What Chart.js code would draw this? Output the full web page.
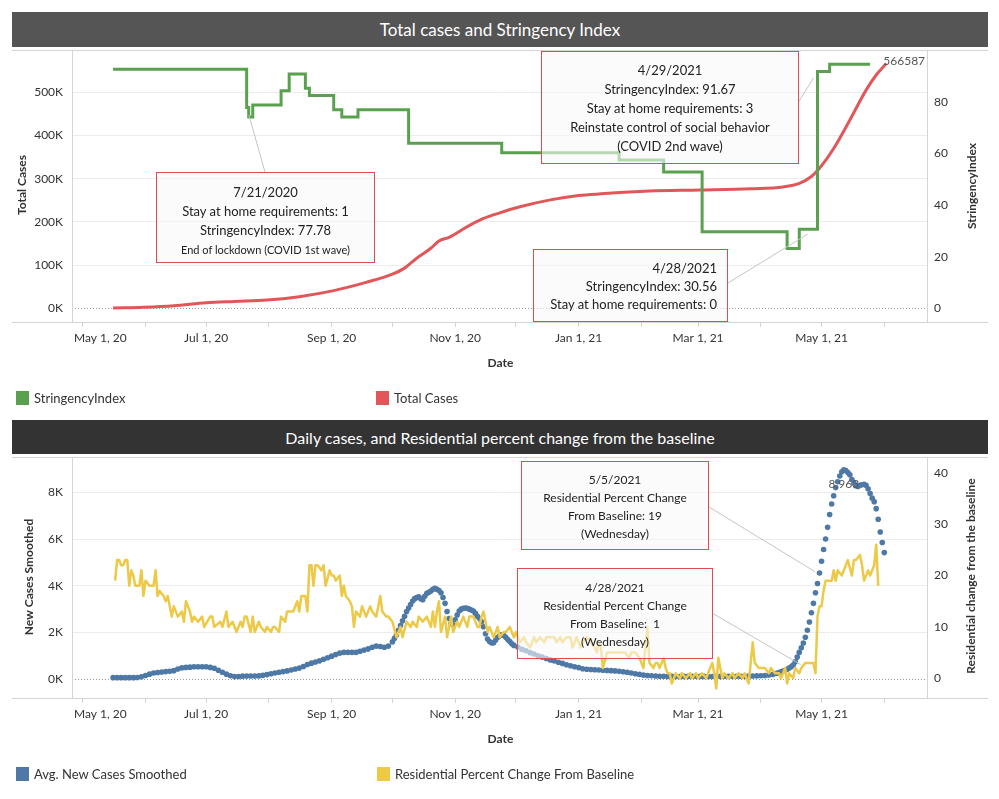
<!DOCTYPE html>
<html>
<head>
<meta charset="utf-8">
<script src="https://cdn.jsdelivr.net/npm/chart.js@4.4.0/dist/chart.umd.min.js"></script>
<style>
  body { margin: 0; background: #fff; font-family: Lato, "Open Sans", sans-serif; }
  #page { position: relative; width: 999px; height: 799px; overflow: hidden; }
  canvas { position: absolute; left: 0; }
  .bar { position: absolute; left: 12px; width: 976px; color: #fff; text-align: center; }
  .legend { position: absolute; height: 16px; font-size: 13px; color: #333; display: flex; align-items: center; }
  .legend i { display: inline-block; width: 13px; height: 14px; margin-right: 5px; }
  .note { position: absolute; box-sizing: border-box; border: 1px solid #e04b4f; background: rgba(248,248,248,0.6);
          color: #222; text-align: center; white-space: nowrap; }
  .top { font-size: 13px; line-height: 19px; }
  .bot { font-size: 12px; line-height: 18px; }
  .small { font-size: 11px; line-height: 16px; }
</style>
</head>
<body>
<div id="page">
  <canvas id="casesChart" width="999" height="410" style="top:0"></canvas>
  <canvas id="dailyChart" width="999" height="379" style="top:420px"></canvas>

  <div class="bar" style="top:12px;height:35px;line-height:36px;font-size:17px;background:#555">Total cases and Stringency Index</div>
  <div class="bar" style="top:420px;height:34px;line-height:36px;font-size:16px;background:#333">Daily cases, and Residential percent change from the baseline</div>

  <div class="legend" style="left:16px;top:390px"><i style="background:#59a14f"></i>StringencyIndex</div>
  <div class="legend" style="left:376px;top:390px"><i style="background:#e15759"></i>Total Cases</div>
  <div class="legend" style="left:16px;top:766px"><i style="background:#4e79a7"></i>Avg. New Cases Smoothed</div>
  <div class="legend" style="left:377px;top:766px"><i style="background:#edc948"></i>Residential Percent Change From Baseline</div>

  <div class="note top" style="left:156px;top:172px;width:219px;height:91px;padding-top:10px">
    7/21/2020<br>Stay at home requirements: 1<br>StringencyIndex: 77.78<br><span class="small">End of lockdown (COVID 1st wave)</span>
  </div>
  <div class="note top" style="left:541px;top:51px;width:258px;height:113px;padding-top:9px">
    4/29/2021<br>StringencyIndex: 91.67<br>Stay at home requirements: 3<br>Reinstate control of social behavior<br>(COVID 2nd wave)
  </div>
  <div class="note top" style="left:533px;top:249px;width:195px;height:73px;padding-top:9px;padding-right:10px;text-align:right;line-height:18px">
    4/28/2021<br>StringencyIndex: 30.56<br>Stay at home requirements: 0
  </div>
  <div class="note bot" style="left:521px;top:461px;width:188px;height:89px;padding-top:9px">
    5/5/2021<br>Residential Percent Change<br>From Baseline: 19<br>(Wednesday)
  </div>
  <div class="note bot" style="left:517px;top:568px;width:196px;height:91px;padding-top:10px">
    4/28/2021<br>Residential Percent Change<br>From Baseline:&nbsp; 1<br>(Wednesday)
  </div>
</div>

<script>
// x values are days counted from May 1, 2020
const monthDays = [0, 31, 61, 92, 123, 153, 184, 214, 245, 276, 304, 335, 365, 396];
const monthLabels = ['May 1, 20', '', 'Jul 1, 20', '', 'Sep 1, 20', '', 'Nov 1, 20', '', 'Jan 1, 21', '', 'Mar 1, 21', '', 'May 1, 21', ''];

// Stringency index: day each level starts
const stringencyIndex = [[15, 92.59], [81, 77.78], [82, 74.07], [84, 78.7], [98, 84.26], [102, 90.74], [110, 85.19],
  [112, 82.41], [124, 76.85], [128, 74.07], [136, 76.85], [161, 63.89], [207, 60.19], [265, 57.41], [287, 52.78],
  [306, 29.63], [348, 23.15], [354, 30.56], [363, 91.67], [369, 94.44], [389, 94.44]];

const totalCases = [[15, 800], [30, 2500], [45, 6000], [61, 13000], [75, 16000], [91, 19000], [107, 27000],
  [124, 41000], [140, 60000], [153, 79000], [159, 93000], [165, 116000], [172, 139000], [176, 156000],
  [181, 164000], [190, 189000], [198, 208000], [206, 221000], [216, 235000], [231, 251000], [245, 261000],
  [256, 265000], [280, 271500], [305, 274000], [330, 277000], [346, 281000], [354, 289000], [360, 305000],
  [364, 324000], [371, 370000], [379, 436000], [387, 505000], [392, 540000], [397, 566587]];

const totalCasesTicks = [0, 100000, 200000, 300000, 400000, 500000];
const stringencyTicks = [0, 20, 40, 60, 80];

const newCasesSmoothed = [
  [15, 70], [17, 70], [19, 70], [21, 70], [23, 70], [25, 70], [27, 75], [29, 110], [31, 160], [33, 220], [35, 270],
  [37, 290], [39, 310], [41, 330], [43, 340], [45, 370], [47, 440], [49, 490], [51, 510], [53, 520], [55, 540],
  [57, 540], [59, 540], [61, 540], [63, 510], [65, 470], [67, 390], [69, 300], [71, 220], [73, 150], [75, 115],
  [77, 120], [79, 135], [81, 140], [83, 140], [85, 140], [87, 145], [89, 170], [91, 200], [93, 240], [95, 270],
  [97, 300], [99, 330], [101, 360], [103, 400], [105, 440], [107, 480], [109, 550], [111, 630], [113, 690],
  [115, 740], [117, 790], [119, 860], [121, 920], [123, 990], [125, 1060], [127, 1120], [129, 1150], [131, 1150],
  [133, 1150], [135, 1150], [137, 1200], [139, 1250], [141, 1300], [143, 1370], [145, 1420], [147, 1400],
  [149, 1370], [151, 1420], [153, 1600],
  [154, 1750], [155, 1900], [156, 2100], [157, 2300], [158, 2500], [159, 2700], [160, 2900], [161, 3050],
  [162, 3200], [163, 3350], [164, 3450], [165, 3500], [166, 3530], [167, 3450], [168, 3400], [169, 3550],
  [170, 3680], [171, 3720], [172, 3780], [173, 3850], [174, 3890], [175, 3850], [176, 3800], [177, 3700],
  [178, 3500], [179, 3250], [180, 2900], [181, 2600], [182, 2400], [183, 2320], [184, 2550], [185, 2750],
  [186, 2920], [187, 3000], [188, 3040], [189, 3050], [190, 3040], [191, 3000], [192, 2960], [193, 2920],
  [194, 2820], [195, 2700], [196, 2600], [197, 2460], [198, 2250], [199, 1950], [200, 1720], [201, 1620],
  [202, 1560], [203, 1560], [204, 1680], [205, 1800], [206, 1860], [207, 1900], [208, 1880], [209, 1800],
  [210, 1700], [211, 1620], [212, 1520], [213, 1450],
  [215, 1380], [217, 1280], [219, 1220], [221, 1140], [223, 1080], [225, 1010], [227, 950], [229, 890],
  [231, 830], [233, 780], [235, 730], [237, 680], [239, 620], [241, 580], [243, 540], [245, 500], [247, 450],
  [249, 430], [251, 420], [253, 410], [255, 400], [257, 390], [259, 380], [261, 370], [263, 360], [265, 340],
  [267, 320], [269, 300], [271, 270], [273, 240], [275, 210], [277, 180], [279, 160], [281, 150], [283, 140],
  [285, 130], [287, 130], [289, 125], [291, 125], [293, 120], [295, 120], [297, 125], [299, 125], [301, 130],
  [303, 130], [305, 125], [307, 125], [309, 120], [311, 120], [313, 125], [315, 125], [317, 130], [319, 130],
  [321, 130], [323, 130], [325, 130], [327, 135], [329, 135], [331, 140], [333, 145], [335, 155], [337, 165],
  [339, 185], [341, 210], [343, 260], [344, 290], [345, 320], [346, 350],
  [347, 390], [348, 430], [349, 480], [350, 540], [351, 610], [352, 750], [353, 950], [354, 1150], [355, 1350],
  [356, 1550], [357, 1800], [358, 2100], [359, 2450], [360, 2850], [361, 3250], [362, 3700], [363, 4100],
  [364, 4550], [365, 5050], [366, 5550], [367, 6000], [368, 6500], [369, 7050], [370, 7500], [371, 7850],
  [372, 8200], [373, 8450], [374, 8700], [375, 8880], [376, 8963], [377, 8930], [378, 8850], [379, 8750],
  [380, 8550], [381, 8400], [382, 8280], [383, 8250], [384, 8300], [385, 8320], [386, 8340], [387, 8300],
  [388, 8150], [389, 7950], [390, 7750], [391, 7600], [392, 7300], [393, 6850], [394, 6300], [395, 5850],
  [396, 5420]];

const residentialChange = [
  [16, 19], [17, 23], [18, 23], [19, 22], [20, 22], [21, 23], [22, 23], [23, 18], [24, 21], [25, 20], [26, 18],
  [28, 18], [29, 21], [30, 16], [31, 19], [33, 18], [35, 18], [36, 21], [37, 16], [38, 17], [40, 16], [41, 15],
  [42, 16], [44, 12], [45, 14], [47, 12], [49, 13], [50, 11], [51, 15], [53, 13], [54, 11], [55, 12], [57, 11],
  [59, 12], [60, 10], [63, 12], [64, 12], [65, 10], [68, 11], [69, 10], [71, 13], [72, 10], [74, 11], [76, 9],
  [78, 11], [79, 10], [80, 12], [81, 12], [83, 9], [84, 12], [85, 9], [87, 11], [88, 10], [90, 9], [91, 10],
  [93, 9], [94, 10], [95, 10], [97, 9], [98, 12], [100, 11], [101, 13], [102, 13], [104, 13], [106, 15],
  [107, 13], [108, 16], [110, 16], [111, 13], [112, 22], [113, 22], [114, 18], [115, 22], [116, 22], [118, 21],
  [119, 22], [120, 18], [122, 21], [123, 20], [124, 20], [125, 19], [127, 20], [128, 16], [129, 18], [130, 16],
  [132, 15], [133, 14], [134, 10], [135, 13], [137, 12], [138, 14], [140, 12], [142, 14], [143, 13], [145, 12],
  [147, 16], [148, 13], [150, 12], [151, 12], [153, 11], [155, 8], [157, 10], [158, 8], [160, 11], [162, 10],
  [163, 11], [165, 10], [166, 12], [168, 11], [170, 12], [172, 10], [173, 13], [174, 10], [175, 13], [176, 15],
  [177, 9], [179, 12], [180, 8], [182, 12], [183, 9], [185, 11], [186, 10], [188, 12], [190, 10], [191, 12],
  [193, 12], [195, 10], [196, 10], [197, 12], [198, 13], [200, 9], [201, 10], [203, 8], [205, 10], [206, 8],
  [208, 9], [209, 9], [211, 10], [213, 8], [214, 9], [216, 7], [218, 8], [219, 7], [221, 6], [223, 8], [224, 7],
  [226, 8], [228, 7], [229, 8], [231, 8], [233, 8], [234, 7], [236, 8], [237, 7], [239, 8], [241, 8], [242, 6],
  [244, 8], [246, 6], [247, 7], [249, 8], [251, 7], [253, 6], [254, 5], [255, 7], [256, 6], [257, 2], [259, 5],
  [261, 5], [263, 5], [265, 5], [266, 5], [268, 5], [270, 4], [271, 5], [273, 5], [275, 4], [277, 2], [279, 10],
  [280, 3], [282, 2], [283, 3], [284, 3], [285, 2], [287, 4], [288, 2], [289, 1], [290, 1], [291, -1], [293, 1],
  [295, 0], [296, 1], [298, 0], [300, 1], [301, 0], [303, 1], [304, 0], [306, 1], [308, 0], [311, 3], [312, 1],
  [313, -2], [314, 4], [316, 0], [317, 1], [319, 0], [321, 1], [322, 0], [324, 1], [326, 0], [327, 1], [329, -1],
  [331, 7], [332, 3], [334, 2], [335, 2], [337, 2], [339, 1], [340, 2], [342, 1], [344, 1], [345, 0], [347, 2],
  [348, -1], [349, 1], [351, 0], [352, 2], [354, 1], [355, 2], [357, 3], [359, 3], [361, 3], [362, 1], [363, 12],
  [364, 14], [365, 14], [366, 17], [367, 19], [368, 19], [369, 19], [370, 19], [371, 21], [372, 19], [373, 21],
  [375, 20], [376, 21], [377, 22], [378, 23], [380, 20], [381, 23], [382, 23], [384, 24], [385, 22], [386, 19],
  [388, 21], [389, 20], [391, 22], [392, 26], [393, 18]];

const newCasesTicks = [0, 2000, 4000, 6000, 8000];
const residentialTicks = [0, 10, 20, 30, 40];

const X_MIN = -5.29, X_MAX = 417.1;
const pts = rows => rows.map(r => ({x: r[0], y: r[1]}));
const kFmt = v => (v / 1000) + 'K';

Chart.defaults.font.family = 'Lato, "Open Sans", sans-serif';
Chart.defaults.color = '#333';

function xAxis(height) {
  return {
    type: 'linear', min: X_MIN, max: X_MAX,
    afterBuildTicks: s => { s.ticks = monthDays.map(v => ({value: v})); },
    afterFit: s => { s.height = height; },
    ticks: {display: false},
    grid: {drawOnChartArea: false, drawTicks: true, tickLength: 5, color: '#d4d4d4'},
    border: {display: false}
  };
}

function yAxis(position, min, max, tickValues, fmt, gridlines) {
  return {
    type: 'linear', position, min, max,
    afterFit: s => { s.width = 72; },
    afterBuildTicks: s => { s.ticks = tickValues.map(v => ({value: v})); },
    ticks: {callback: fmt, color: '#333', font: {size: 12}, padding: position === 'left' ? 9 : 7},
    grid: gridlines
      ? {drawTicks: false, color: c => (c.tick && c.tick.value === 0) ? 'rgba(0,0,0,0)' : '#ececec'}
      : {display: false, drawTicks: false},
    border: {display: false}
  };
}

function decor(o) {
  return {
    id: 'decor',
    beforeDatasetsDraw(chart) {
      const ctx = chart.ctx, a = chart.chartArea;
      ctx.save();
      ctx.strokeStyle = '#d4d4d4';
      ctx.lineWidth = 1;
      ctx.beginPath();
      [a.top, a.bottom].forEach(y => { ctx.moveTo(12, Math.round(y) + 0.5); ctx.lineTo(988, Math.round(y) + 0.5); });
      [a.left, a.right].forEach(x => { ctx.moveTo(Math.round(x) + 0.5, a.top); ctx.lineTo(Math.round(x) + 0.5, a.bottom); });
      ctx.stroke();
      const y0 = Math.round(chart.scales.yL.getPixelForValue(0)) + 0.5;
      ctx.strokeStyle = '#9a9a9a';
      ctx.setLineDash([1, 2]);
      ctx.beginPath();
      ctx.moveTo(a.left + 3, y0);
      ctx.lineTo(a.right, y0);
      ctx.stroke();
      ctx.restore();
    },
    afterDatasetsDraw(chart) {
      const ctx = chart.ctx, sx = chart.scales.x;
      ctx.save();
      ctx.strokeStyle = '#c4c4c4';
      ctx.lineWidth = 1;
      o.leaders.forEach(l => {
        const px = sx.getPixelForValue(l.x), py = chart.scales[l.axis].getPixelForValue(l.y);
        const tx = l.to[0], ty = l.to[1] - o.top;
        const len = Math.hypot(tx - px, ty - py);
        const sxp = px + (tx - px) * l.gap / len, syp = py + (ty - py) * l.gap / len;
        ctx.beginPath();
        ctx.moveTo(sxp, syp);
        ctx.lineTo(tx, ty);
        ctx.stroke();
      });
      ctx.fillStyle = '#555';
      ctx.font = '12px Lato, sans-serif';
      o.marks.forEach(m => {
        const px = sx.getPixelForValue(m.x), py = chart.scales[m.axis].getPixelForValue(m.y);
        ctx.textAlign = m.align;
        ctx.textBaseline = 'middle';
        ctx.fillText(m.text, px + m.dx, py + m.dy);
      });
      ctx.restore();
    },
    afterDraw(chart) {
      const ctx = chart.ctx, a = chart.chartArea, sx = chart.scales.x;
      ctx.save();
      ctx.fillStyle = '#333';
      ctx.textBaseline = 'middle';
      ctx.textAlign = 'center';
      ctx.font = '12px Lato, sans-serif';
      monthDays.forEach((d, i) => {
        const label = monthLabels[i];
        if (!label) return;
        const w = ctx.measureText(label).width;
        const x = Math.max(sx.getPixelForValue(d), a.left + 2 + w / 2);
        ctx.fillText(label, x, a.bottom + 16);
      });
      ctx.font = 'bold 12px Lato, sans-serif';
      ctx.fillText('Date', (a.left + a.right) / 2 + 1, a.bottom + 41);
      o.titles.forEach(t => {
        ctx.save();
        ctx.translate(t.x, t.y - o.top);
        ctx.rotate(-Math.PI / 2);
        ctx.fillText(t.text, 0, 0);
        ctx.restore();
      });
      ctx.restore();
    }
  };
}

new Chart(document.getElementById('casesChart'), {
  type: 'line',
  data: {
    datasets: [
      {label: 'StringencyIndex', data: pts(stringencyIndex), yAxisID: 'yR', borderColor: '#59a14f', borderWidth: 3,
       stepped: true, pointRadius: 0, order: 0},
      {label: 'Total Cases', data: pts(totalCases), yAxisID: 'yL', borderColor: '#e15759', borderWidth: 3,
       cubicInterpolationMode: 'monotone', pointRadius: 0, order: 1}
    ]
  },
  options: {
    responsive: false, animation: false,
    layout: {padding: {top: 50, left: 0, right: 0, bottom: 0}},
    plugins: {legend: {display: false}, tooltip: {enabled: false}},
    scales: {
      x: xAxis(88),
      yL: yAxis('left', -31700, 597900, totalCasesTicks, kFmt, true),
      yR: yAxis('right', -5.3, 100, stringencyTicks, v => v, false)
    }
  },
  plugins: [decor({
    top: 0,
    titles: [{text: 'Total Cases', x: 22, y: 185}, {text: 'StringencyIndex', x: 972, y: 186}],
    leaders: [
      {x: 81, y: 77.78, axis: 'yR', to: [265, 172], gap: 8},
      {x: 363, y: 91.67, axis: 'yR', to: [798, 103], gap: 8},
      {x: 362, y: 30.56, axis: 'yR', to: [728, 283], gap: 9}
    ],
    marks: [{x: 397, y: 566587, axis: 'yL', text: '566587', align: 'left', dx: -3, dy: -2}]
  })]
});

new Chart(document.getElementById('dailyChart'), {
  type: 'line',
  data: {
    datasets: [
      {label: 'Avg. New Cases Smoothed', data: pts(newCasesSmoothed), yAxisID: 'yL', showLine: false,
       pointRadius: 2.8, pointBackgroundColor: '#4e79a7', pointBorderWidth: 0, order: 1},
      {label: 'Residential Percent Change From Baseline', data: pts(residentialChange), yAxisID: 'yR',
       borderColor: '#edc948', borderWidth: 2.5, borderJoinStyle: 'round', pointRadius: 0, order: 0}
    ]
  },
  options: {
    responsive: false, animation: false,
    layout: {padding: {top: 37, left: 0, right: 0, bottom: 0}},
    plugins: {legend: {display: false}, tooltip: {enabled: false}},
    scales: {
      x: xAxis(101),
      yL: yAxis('left', -800, 9510, newCasesTicks, kFmt, true),
      yR: yAxis('right', -3.83, 43.05, residentialTicks, v => v, false)
    }
  },
  plugins: [decor({
    top: 420,
    titles: [{text: 'New Cases Smoothed', x: 29, y: 577}, {text: 'Residential change from the baseline', x: 971, y: 576}],
    leaders: [
      {x: 369, y: 19, axis: 'yR', to: [709, 507], gap: 17},
      {x: 362, y: 1, axis: 'yR', to: [712, 613], gap: 17}
    ],
    marks: [{x: 376, y: 8963, axis: 'yL', text: '8,963', align: 'center', dx: 0, dy: 14.5}]
  })]
});
</script>
</body>
</html>
